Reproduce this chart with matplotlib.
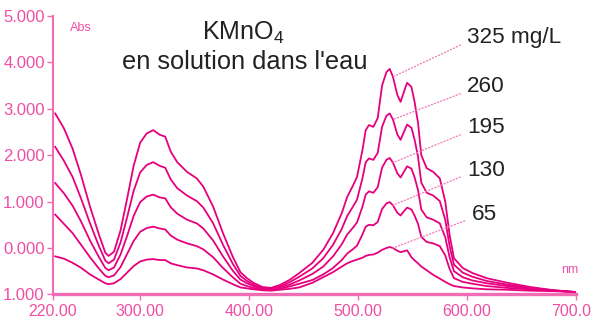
import matplotlib
matplotlib.use("Agg")
import matplotlib.pyplot as plt

plt.rcParams['font.family'] = ['Liberation Sans', 'DejaVu Sans']
plt.rcParams['mathtext.fontset'] = 'custom'
plt.rcParams['mathtext.rm'] = 'Liberation Sans'

# wavelength grid (nm)
wl = [222, 230, 238, 246, 254, 262, 268, 271, 276, 282,
      288, 294, 300, 306, 312, 318, 323, 328, 334, 343,
      352, 358, 367, 376, 385, 392, 398, 404, 412, 420,
      428, 437, 446, 458, 468, 477, 485, 490, 495, 499,
      504, 507, 510, 514, 518, 522, 526, 529, 532, 536,
      539, 542, 545, 549, 552, 555, 558, 563, 569, 575,
      580, 584, 588, 596, 605, 618, 637, 658, 679, 700]

# absorbance for each concentration (mg/L)
a325 = [2.90, 2.58, 2.14, 1.55, 0.89, 0.30, -0.10, -0.17, -0.08, 0.38,
        1.06, 1.77, 2.27, 2.47, 2.54, 2.44, 2.40, 2.08, 1.85, 1.64,
        1.50, 1.32, 0.89, 0.32, -0.19, -0.52, -0.65, -0.75, -0.84, -0.86,
        -0.80, -0.69, -0.54, -0.32, -0.04, 0.32, 0.75, 1.10, 1.33, 1.53,
        2.11, 2.54, 2.65, 2.61, 2.80, 3.50, 3.79, 3.86, 3.69, 3.30,
        3.15, 3.36, 3.56, 3.47, 3.13, 2.70, 2.00, 1.72, 1.64, 1.50,
        1.00, 0.28, -0.22, -0.43, -0.54, -0.65, -0.75, -0.84, -0.91, -0.95]
a260 = [2.18, 1.88, 1.53, 1.05, 0.53, 0.05, -0.27, -0.33, -0.25, 0.12,
        0.66, 1.23, 1.63, 1.79, 1.85, 1.77, 1.73, 1.48, 1.29, 1.13,
        1.01, 0.87, 0.53, 0.07, -0.34, -0.60, -0.71, -0.79, -0.86, -0.87,
        -0.83, -0.74, -0.62, -0.44, -0.22, 0.07, 0.41, 0.69, 0.88, 1.04,
        1.50, 1.85, 1.93, 1.90, 2.05, 2.61, 2.85, 2.90, 2.77, 2.45,
        2.33, 2.50, 2.66, 2.59, 2.32, 1.97, 1.41, 1.19, 1.13, 1.01,
        0.61, 0.04, -0.36, -0.53, -0.62, -0.71, -0.79, -0.86, -0.91, -0.95]
a195 = [1.40, 1.18, 0.91, 0.56, 0.16, -0.19, -0.43, -0.48, -0.42, -0.14,
        0.26, 0.69, 0.99, 1.11, 1.15, 1.09, 1.07, 0.88, 0.74, 0.61,
        0.53, 0.42, 0.16, -0.18, -0.49, -0.68, -0.76, -0.82, -0.88, -0.89,
        -0.85, -0.79, -0.70, -0.56, -0.40, -0.18, 0.08, 0.29, 0.43, 0.55,
        0.89, 1.15, 1.22, 1.19, 1.31, 1.73, 1.90, 1.94, 1.84, 1.61,
        1.52, 1.64, 1.76, 1.71, 1.51, 1.25, 0.83, 0.66, 0.61, 0.53,
        0.23, -0.20, -0.50, -0.63, -0.70, -0.76, -0.82, -0.88, -0.92, -0.95]
a130 = [0.72, 0.52, 0.32, 0.06, -0.20, -0.44, -0.60, -0.63, -0.59, -0.41,
        -0.13, 0.15, 0.35, 0.43, 0.46, 0.42, 0.40, 0.27, 0.18, 0.10,
        0.04, -0.03, -0.20, -0.43, -0.63, -0.77, -0.82, -0.86, -0.89, -0.90,
        -0.88, -0.83, -0.77, -0.69, -0.57, -0.43, -0.26, -0.12, -0.03, 0.05,
        0.29, 0.46, 0.50, 0.49, 0.56, 0.84, 0.96, 0.99, 0.92, 0.76,
        0.70, 0.79, 0.87, 0.83, 0.69, 0.52, 0.24, 0.13, 0.10, 0.04,
        -0.16, -0.45, -0.65, -0.73, -0.77, -0.82, -0.86, -0.89, -0.92, -0.95]
a65 = [-0.18, -0.23, -0.32, -0.43, -0.57, -0.68, -0.76, -0.78, -0.76, -0.67,
       -0.53, -0.39, -0.29, -0.25, -0.24, -0.26, -0.26, -0.33, -0.37, -0.42,
       -0.44, -0.48, -0.57, -0.68, -0.78, -0.85, -0.87, -0.89, -0.91, -0.92,
       -0.90, -0.88, -0.85, -0.75, -0.63, -0.52, -0.40, -0.33, -0.28, -0.25,
       -0.21, -0.17, -0.15, -0.14, -0.10, -0.04, 0.00, 0.02, 0.00, -0.06,
       -0.09, -0.07, -0.05, -0.20, -0.27, -0.33, -0.40, -0.48, -0.58, -0.66,
       -0.73, -0.78, -0.82, -0.85, -0.87, -0.89, -0.90, -0.92, -0.93, -0.95]

series = [a325, a260, a195, a130, a65]
conc_labels = ['325 mg/L', '260', '195', '130', '65']
label_pos = [(600, 4.53), (600, 3.47), (600, 2.59), (600, 1.68), (604, 0.73)]

xticks = [220, 300, 400, 500, 600, 700]
xticklabels = ['220.00', '300.00', '400.00', '500.00', '600.00', '700.00']
yticks = [-1, 0, 1, 2, 3, 4, 5]
yticklabels = ['1.000', '0.000', '1.000', '2.000', '3.000', '4.000', '5.000']

curve_col = '#e6007e'
axis_col = '#f06cb4'
tick_col = '#ee4fa5'
lead_col = '#f27ab8'

fig = plt.figure(figsize=(5.91, 3.20), dpi=100)
ax = fig.add_axes([53/591, 0.08, (576-53)/591, 0.87])

for vals in series:
    ax.plot(wl, vals, color=curve_col, lw=1.3, solid_joinstyle='round')

# leader lines from labels to curves
i_lead = wl.index(532)
for vals, lab, pos in zip(series, conc_labels, label_pos):
    ax.annotate(lab, xy=(wl[i_lead], vals[i_lead]), xytext=pos,
                ha='left', va='center', fontsize=16.2, color='#222222',
                arrowprops=dict(arrowstyle='-', linestyle=':', color=lead_col,
                                lw=0.9, shrinkA=3, shrinkB=0,
                                relpos=(0, 0.3)))

ax.set_xlim(220, 700)
ax.set_ylim(-1, 5)
ax.set_xticks(xticks)
ax.set_xticklabels(xticklabels)
ax.set_yticks(yticks)
ax.set_yticklabels(yticklabels)
ax.tick_params(colors=axis_col, labelcolor=tick_col, length=4, width=1)
ax.tick_params(axis='y', pad=2, labelsize=12)
ax.tick_params(axis='x', pad=3, labelsize=11.5)

for s in ['top', 'right']:
    ax.spines[s].set_visible(False)
ax.spines['left'].set_color(axis_col)
ax.spines['left'].set_linewidth(1.5)
ax.spines['bottom'].set_color(axis_col)
ax.spines['bottom'].set_linewidth(2.4)

ax.text(236, 4.74, 'Abs', color=tick_col, fontsize=9, ha='left', va='center')
ax.text(694, -0.47, 'nm', color=tick_col, fontsize=9, ha='center', va='center')

fig.text(243/591, 1 - 40/320, 'KMnO$_4$', ha='center', va='baseline',
         fontsize=18, color='#222222')
fig.text(245/591, 1 - 69/320, "en solution dans l'eau", ha='center',
         va='baseline', fontsize=18.3, color='#222222')

fig.savefig('out.png', dpi=100)
